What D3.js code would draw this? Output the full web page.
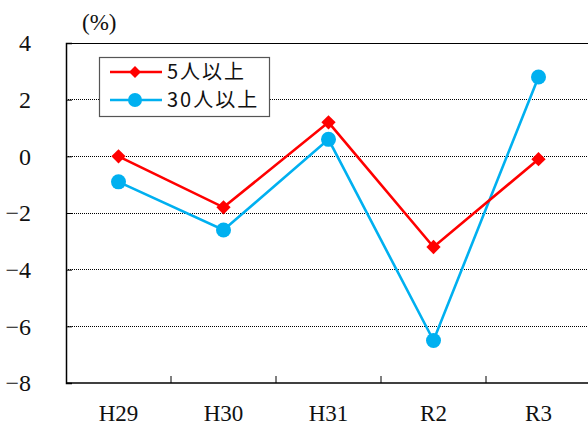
<!DOCTYPE html>
<html>
<head>
<meta charset="utf-8">
<script src="https://cdn.jsdelivr.net/npm/d3@7"></script>
<style>
  html, body { margin: 0; padding: 0; background: #fff; }
  svg { display: block; }
  text.num { font-family: 'Liberation Serif'; }
</style>
</head>
<body>
<svg id="chart" width="588" height="426"></svg>
<script>
// Year-on-year change (%), by establishment size
const categories = ["H29", "H30", "H31", "R2", "R3"];
const seriesNames = ["5人以上", "30人以上"];
const values5 = [0.0, -1.8, 1.2, -3.2, -0.1];
const values30 = [-0.9, -2.6, 0.6, -6.5, 2.8];
const yTicks = [4, 2, 0, -2, -4, -6, -8];

const svg = d3.select("#chart");
const plot = { left: 66, right: 591, top: 43, bottom: 383 };

const x = d3.scaleBand().domain(categories).range([plot.left, plot.right]);
const y = d3.scaleLinear().domain([-8, 4]).range([plot.bottom, plot.top]);

const cjk = "Noto Sans CJK JP";

// dotted gridlines
svg.append("g").selectAll("line")
  .data(yTicks.filter(v => v !== -8 && v !== 4))
  .join("line")
  .attr("x1", plot.left).attr("x2", plot.right)
  .attr("y1", d => y(d)).attr("y2", d => y(d))
  .attr("stroke", "#000").attr("stroke-width", 1)
  .attr("stroke-dasharray", "1,1")
  .attr("shape-rendering", "crispEdges");

// top frame line
svg.append("line")
  .attr("x1", plot.left).attr("x2", plot.right)
  .attr("y1", y(4)).attr("y2", y(4))
  .attr("stroke", "#000").attr("stroke-width", 1)
  .attr("shape-rendering", "crispEdges");

// left axis with inward ticks
const yAxis = d3.axisRight(y).tickValues(yTicks).tickSize(6).tickFormat("");
const yg = svg.append("g").attr("transform", `translate(${plot.left},0)`).call(yAxis);
yg.select(".domain").attr("stroke", "#000").attr("stroke-width", 1.5);
yg.selectAll(".tick line").attr("stroke", "#000");

// y labels
svg.append("g").selectAll("text")
  .data(yTicks)
  .join("text")
  .attr("class", "num")
  .attr("x", 31).attr("y", d => y(d))
  .attr("dy", "0.35em")
  .attr("text-anchor", "end")
  .style("font-size", "24px")
  .attr("fill", "#111")
  .text(d => d < 0 ? "\u2212" + Math.abs(d) : String(d));

// bottom axis with inward ticks at category boundaries
svg.append("line")
  .attr("x1", plot.left).attr("x2", plot.right)
  .attr("y1", plot.bottom).attr("y2", plot.bottom)
  .attr("stroke", "#000").attr("stroke-width", 1.5);
svg.append("g").selectAll("line")
  .data(categories.slice(1))
  .join("line")
  .attr("x1", d => x(d)).attr("x2", d => x(d))
  .attr("y1", plot.bottom).attr("y2", plot.bottom - 7)
  .attr("stroke", "#000").attr("stroke-width", 1);

// x labels
svg.append("g").selectAll("text")
  .data(categories)
  .join("text")
  .attr("class", "num")
  .attr("x", d => x(d) + x.bandwidth() / 2)
  .attr("y", 421)
  .attr("text-anchor", "middle")
  .style("font-size", "23px")
  .attr("fill", "#111")
  .text(d => d);

// unit label
svg.append("text")
  .attr("class", "num")
  .attr("x", 82).attr("y", 30)
  .style("font-size", "23px")
  .attr("fill", "#111")
  .text("(%)");

const cx = d => x(d) + x.bandwidth() / 2;
const line = d3.line().x((d, i) => cx(categories[i])).y(d => y(d));

const red = "#FF0000", blue = "#00B0F0";

// 30人以上 series
svg.append("path").datum(values30)
  .attr("d", line).attr("fill", "none")
  .attr("stroke", blue).attr("stroke-width", 2.6);
svg.append("g").selectAll("circle")
  .data(values30).join("circle")
  .attr("cx", (d, i) => cx(categories[i])).attr("cy", d => y(d))
  .attr("r", 7.5).attr("fill", blue);

// 5人以上 series
const diamond = d3.symbol().type(d3.symbolDiamond2).size(130);
svg.append("path").datum(values5)
  .attr("d", line).attr("fill", "none")
  .attr("stroke", red).attr("stroke-width", 2.6);
svg.append("g").selectAll("path")
  .data(values5).join("path")
  .attr("transform", (d, i) => `translate(${cx(categories[i])},${y(d)})`)
  .attr("d", diamond).attr("fill", red);

// legend
const lg = svg.append("g");
lg.append("rect")
  .attr("x", 99.5).attr("y", 57.5).attr("width", 170).attr("height", 59)
  .attr("fill", "#fff").attr("stroke", "#555").attr("stroke-width", 1.2);
const legendItems = [
  { name: seriesNames[0], color: red, shape: "diamond", yy: 72 },
  { name: seriesNames[1], color: blue, shape: "circle", yy: 100 }
];
legendItems.forEach(it => {
  lg.append("line")
    .attr("x1", 110).attr("x2", 162).attr("y1", it.yy).attr("y2", it.yy)
    .attr("stroke", it.color).attr("stroke-width", 2.6);
  if (it.shape === "circle") {
    lg.append("circle").attr("cx", 135).attr("cy", it.yy).attr("r", 7).attr("fill", it.color);
  } else {
    lg.append("path").attr("transform", `translate(135,${it.yy})`)
      .attr("d", d3.symbol().type(d3.symbolDiamond2).size(90)).attr("fill", it.color);
  }
  lg.append("text")
    .attr("x", 167).attr("y", it.yy).attr("dy", "0.36em")
    .attr("font-family", cjk).attr("font-size", 20)
    .attr("letter-spacing", 2)
    .attr("fill", "#111")
    .text(it.name);
});
</script>
</body>
</html>
